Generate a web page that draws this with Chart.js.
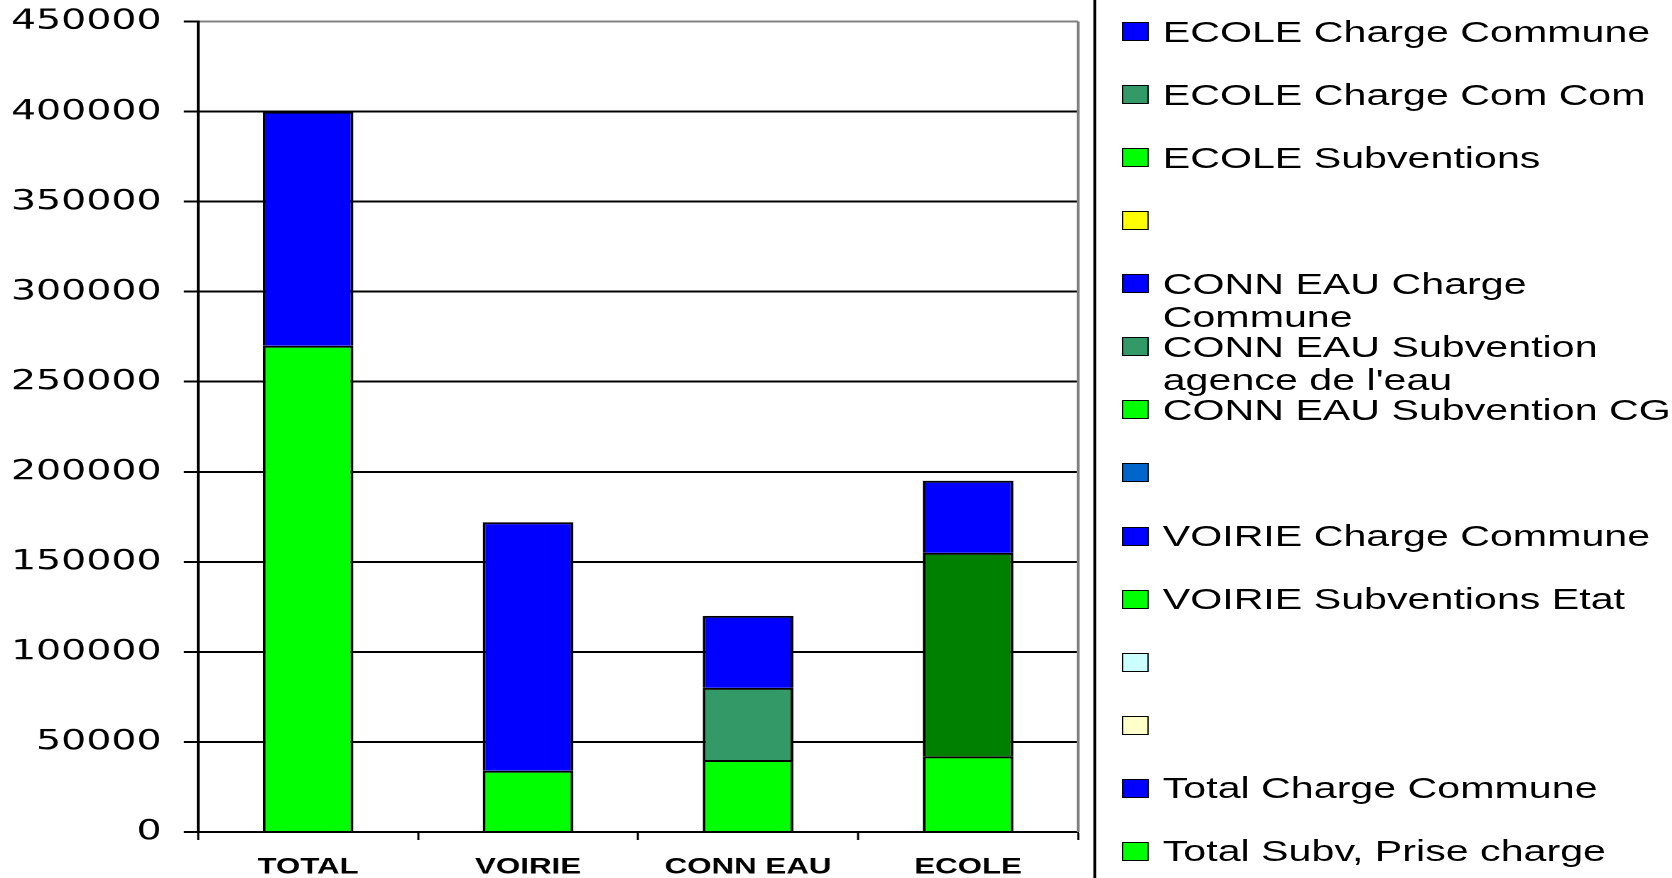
<!DOCTYPE html>
<html>
<head>
<meta charset="utf-8">
<script src="https://cdn.jsdelivr.net/npm/chart.js@4.4.0/dist/chart.umd.min.js"></script>
<style>
    html, body { margin: 0; padding: 0; background: #fff; overflow: hidden; width: 1672px; height: 878px; }
    #wrap {
        position: absolute; left: 0; top: 0;
        width: 1177.5px; height: 878px;
        transform: scaleX(1.42); transform-origin: 0 0;
    }
    #chartBox { position: absolute; left: 0; top: 0; width: 1177.5px; height: 878px; }
    .divider { position: absolute; left: 770.1px; top: 0; width: 2px; height: 878px; background: #000; }
    #legend { position: absolute; left: 790px; top: 0; width: 400px; height: 878px; }
    .item { position: absolute; left: 0; width: 400px; }
    .swatch {
        position: absolute; left: 0; top: 6.3px;
        width: 19px; height: 19px; box-sizing: border-box; border: 1.5px solid #000;
    }
    .text {
        position: absolute; left: 28.8px; top: 0; width: 372px;
        font: 29px/32.5px "Liberation Sans", Arial, sans-serif; color: #000;
    }
</style>
</head>
<body>
<div id="wrap">
    <div id="chartBox"><canvas id="budgetChart"></canvas></div>
    <div class="divider"></div>
    <div id="legend"></div>
</div>
<script>
const categories = ['TOTAL', 'VOIRIE', 'CONN EAU', 'ECOLE'];

// series values, one per category (stack order, bottom first)
const totalSubv = [270000, null, null, null];
const totalChargeCommune = [130000, null, null, null];
const voirieSubvEtat = [null, 34000, null, null];
const voirieChargeCommune = [null, 138000, null, null];
const connSubvCG = [null, null, 40000, null];
const connSubvAgence = [null, null, 40000, null];
const connChargeCommune = [null, null, 40000, null];
const ecoleSubv = [null, null, null, 42000];
const ecoleComCom = [null, null, null, 113000];
const ecoleChargeCommune = [null, null, null, 40000];
const empty = [null, null, null, null];

const yTicks = [0, 50000, 100000, 150000, 200000, 250000, 300000, 350000, 400000, 450000];

const series = [
    { label: 'Total Subv, Prise charge', data: totalSubv, color: '#00FF00' },
    { label: 'Total Charge Commune', data: totalChargeCommune, color: '#0000FF' },
    { label: '', data: empty, color: '#FFFFCC' },
    { label: '', data: empty, color: '#CCFFFF' },
    { label: 'VOIRIE Subventions Etat', data: voirieSubvEtat, color: '#00FF00' },
    { label: 'VOIRIE Charge Commune', data: voirieChargeCommune, color: '#0000FF' },
    { label: '', data: empty, color: '#0066CC' },
    { label: 'CONN EAU Subvention CG', data: connSubvCG, color: '#00FF00' },
    { label: "CONN EAU Subvention agence de l'eau", data: connSubvAgence, color: '#339966' },
    { label: 'CONN EAU Charge Commune', data: connChargeCommune, color: '#0000FF' },
    { label: '', data: empty, color: '#FFFF00' },
    { label: 'ECOLE Subventions', data: ecoleSubv, color: '#00FF00' },
    // the bar itself is filled darker than its legend key
    { label: 'ECOLE Charge Com Com', data: ecoleComCom, color: '#339966', fill: '#008000' },
    { label: 'ECOLE Charge Commune', data: ecoleChargeCommune, color: '#0000FF' }
];

const plotFrame = {
    id: 'plotFrame',
    beforeDatasetsDraw(chart) {
        const { ctx, chartArea: a } = chart;
        ctx.save();
        ctx.strokeStyle = '#808080';
        ctx.lineWidth = 2;
        ctx.beginPath();
        ctx.moveTo(a.right, a.top);
        ctx.lineTo(a.right, a.bottom);
        ctx.stroke();
        ctx.restore();
    }
};

const chart = new Chart(document.getElementById('budgetChart'), {
    type: 'bar',
    data: {
        labels: categories,
        datasets: series.map(s => ({
            label: s.label,
            data: s.data,
            backgroundColor: s.fill || s.color,
            borderColor: '#000',
            borderWidth: 2,
            categoryPercentage: 0.412,
            barPercentage: 1
        }))
    },
    options: {
        responsive: true,
        maintainAspectRatio: false,
        animation: false,
        devicePixelRatio: 2,
        layout: { padding: { top: 21.5, right: 418.6, bottom: 0, left: 0 } },
        plugins: {
            legend: { display: false },
            tooltip: { enabled: false }
        },
        scales: {
            x: {
                stacked: true,
                grid: {
                    display: true,
                    drawOnChartArea: false,
                    offset: true,
                    tickLength: 8,
                    tickWidth: 1.5,
                    tickColor: '#000'
                },
                border: { color: '#000', width: 2 },
                ticks: {
                    color: '#000',
                    padding: 14,
                    maxRotation: 0,
                    autoSkip: false,
                    font: { family: 'Liberation Sans', size: 22, weight: 'bold' }
                },
                afterFit: scale => { scale.height = 46; }
            },
            y: {
                stacked: true,
                min: 0,
                max: 450000,
                afterBuildTicks: scale => { scale.ticks = yTicks.map(v => ({ value: v })); },
                ticks: {
                    color: '#000',
                    padding: 15.6,
                    font: { family: 'DejaVu Sans', size: 27.8 },
                    callback: value => String(value)
                },
                grid: {
                    color: ctx => (ctx.tick && ctx.tick.value === 450000 ? '#808080' : '#000'),
                    lineWidth: 2,
                    tickLength: 10,
                    tickColor: '#000'
                },
                border: { color: '#000', width: 2 },
                afterFit: scale => {
                    scale.width = 139.4;
                    scale.paddingTop = 0;
                    scale.paddingBottom = 0;
                }
            }
        }
    },
    plugins: [plotFrame]
});

// legend lists the top of the stack first
const legendBox = document.getElementById('legend');
chart.data.datasets.slice().reverse().forEach((ds, i) => {
    const src = series[series.length - 1 - i];
    const item = document.createElement('div');
    item.className = 'item';
    item.style.top = (15.9 + 63.04 * i) + 'px';
    const sw = document.createElement('div');
    sw.className = 'swatch';
    sw.style.background = src.color;
    const tx = document.createElement('div');
    tx.className = 'text';
    tx.textContent = ds.label;
    item.appendChild(sw);
    item.appendChild(tx);
    legendBox.appendChild(item);
});
</script>
</body>
</html>
